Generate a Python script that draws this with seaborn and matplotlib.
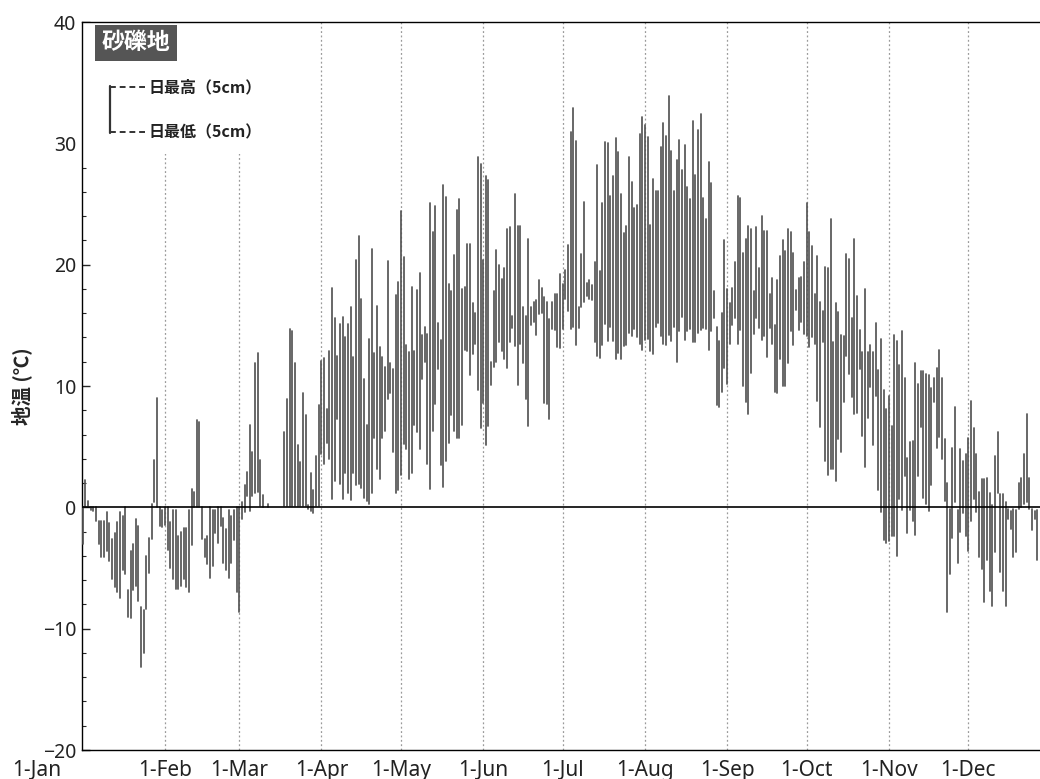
import numpy as np
import pandas as pd
import matplotlib
matplotlib.use("Agg")
import matplotlib.pyplot as plt
import matplotlib.transforms as mtransforms
from matplotlib.ticker import MultipleLocator
import seaborn as sns

# Daily max / min soil temperature at 5 cm (gravel site)
nan = np.nan

jan_max = [0.0, 2.25, 0.5, 0.0, 0.0, 0.0, -1.1, -1.1, -1.1, -0.4, -1.3, -2.6, -2.1, -1.2, -0.4, -0.7,
           0.0, -6.8, -3.6, -3.0, -1.0, -1.5, -8.2, -8.5, -4.0, -2.5, 0.3, 3.9, 9.0, 0.0, -0.2]
jan_min = [-3.0, 0.0, 0.1, -0.2, -0.3, -1.1, -3.0, -4.1, -4.1, -3.6, -4.4, -5.9, -6.6, -7.0, -7.5, -5.2,
           -5.5, -9.0, -9.1, -6.8, -6.5, -7.7, -13.2, -12.0, -8.4, -5.4, -2.6, 0.4, 0.0, -1.5, -1.6]

feb_max = [0.0, 0.0, -1.2, -0.2, -0.2, -2.4, -2.0, -1.7, -1.7, -0.2, 1.5, 1.3, 7.2, 7.0, 0.0, -2.6,
           -2.4, 0.0, -0.2, -0.2, 0.0, 0.0, -0.9, -1.8, -0.2, -0.7, -0.2, 0.0]
feb_min = [-1.45, -3.5, -5.0, -5.9, -6.7, -6.7, -6.5, -5.9, -6.6, -7.0, -3.1, 0.0, 0.0, 0.0, -2.6, -4.1,
           -4.7, -5.8, -4.8, -2.1, -2.9, -1.5, -4.6, -5.2, -5.8, -4.6, -2.7, -7.0]

mar_max = [0.0, 0.4, 1.8, 2.9, 6.8, 4.6, 11.9, 12.7, 3.9, 1.0, nan, 0.3, nan, nan, nan, nan,
           nan, 6.2, 8.9, 14.7, 14.5, 11.9, 5.1, 3.7, 9.4, 7.6, 0.2, 2.8, 1.4, 4.2, 8.4]
mar_min = [-8.6, -1.0, -0.4, 0.9, -0.3, 0.9, 1.2, 1.3, 0.1, 0.0, nan, 0.0, nan, nan, nan, nan,
           nan, 0.1, 0.1, 0.1, 0.1, 0.1, 0.1, 0.1, 0.1, 0.1, -0.1, -0.3, -0.5, 0.1, 0.1]

apr_max = [12.1, 12.3, 8.1, 12.9, 18.1, 15.6, 12.5, 15.1, 15.7, 14.0, 15.1, 16.5, 12.4, 20.4, 22.4,
           17.2, 10.6, 6.8, 13.9, 21.3, 12.7, 16.6, 13.2, 12.4, 11.6, 20.3, 11.9, 11.4, 17.5, 18.6]
apr_min = [4.4, 3.6, 5.3, 4.0, 0.7, 2.2, 7.3, 1.9, 0.7, 2.8, 1.2, 0.6, 2.8, 1.8, 1.9,
           1.6, 0.8, 0.5, 0.3, 1.2, 5.7, 3.2, 2.3, 5.7, 6.3, 8.9, 9.4, 4.6, 1.2, 1.4]

may_max = [24.4, 20.6, 13.4, 12.8, 18.2, 12.9, 17.9, 19.3, 14.2, 14.9, 14.3, 25.1, 22.7, 24.8, 15.2, 13.8,
           26.6, 25.6, 18.4, 17.8, 20.8, 24.5, 25.4, 18.0, 18.2, 21.7, 21.7, 16.8, 16.0, 28.9, 28.3]
may_min = [2.7, 5.2, 4.8, 2.3, 2.8, 6.8, 6.2, 4.8, 10.6, 12.0, 3.6, 1.5, 6.3, 8.5, 11.4, 3.5,
           1.7, 3.8, 5.3, 7.6, 6.3, 5.7, 5.7, 6.8, 13.0, 12.9, 10.9, 12.6, 13.5, 9.7, 6.5]

jun_max = [20.4, 27.3, 27.0, 12.0, 17.8, 21.2, 20.0, 18.8, 19.7, 22.9, 23.1, 15.8, 25.8, 23.2, 23.2,
           16.5, 15.8, 22.1, 16.5, 16.9, 17.1, 18.7, 18.1, 17.3, 16.9, 15.5, 16.9, 17.6, 17.6, 19.2]
jun_min = [8.6, 5.1, 6.7, 10.1, 11.6, 12.0, 13.6, 12.9, 12.2, 11.5, 13.6, 14.8, 13.3, 10.1, 13.5,
           11.9, 8.9, 6.7, 15.0, 15.3, 14.2, 15.9, 16.0, 8.6, 8.5, 7.3, 14.7, 14.6, 13.2, 13.1]

jul_max = [18.4, 19.6, 21.6, 30.9, 32.9, 30.2, 16.5, 20.9, 25.2, 18.5, 18.7, 18.3, 20.2, 28.2, 19.5, 25.1,
           30.1, 30.0, 25.7, 27.3, 30.4, 29.3, 25.8, 22.6, 23.2, 28.9, 26.8, 24.7, 24.9, 30.8, 32.2]
jul_min = [14.7, 17.2, 16.2, 14.7, 14.9, 13.4, 14.8, 16.5, 16.9, 17.4, 17.2, 17.1, 13.6, 12.5, 12.3, 13.4,
           15.1, 13.7, 14.9, 13.7, 12.2, 12.7, 12.2, 13.3, 13.4, 14.4, 14.1, 14.7, 14.0, 13.5, 13.0]

aug_max = [31.5, 30.5, 23.3, 27.1, 26.1, 26.1, 29.7, 31.7, 30.6, 33.9, 29.4, 26.1, 28.6, 30.3, 27.8, 29.9,
           26.4, 25.4, 31.8, 27.4, 31.1, 32.4, 25.5, 23.8, 28.5, 26.7, 17.8, 14.9, 13.7, 16.0, 22.0]
aug_min = [13.8, 13.9, 12.9, 12.6, 14.9, 15.2, 14.1, 13.5, 13.4, 14.2, 13.7, 14.9, 12.0, 14.5, 15.7, 13.8,
           14.5, 14.7, 13.6, 13.6, 14.4, 14.6, 14.8, 14.7, 13.0, 14.5, 15.6, 8.4, 8.3, 9.5, 11.5]

sep_max = [18.0, 16.8, 18.1, 20.2, 25.7, 25.5, 21.0, 22.1, 23.2, 22.9, 17.8, 23.1, 19.7, 24.0, 22.8,
           22.8, 17.6, 18.9, 15.0, 18.7, 20.7, 22.0, 21.1, 22.9, 22.7, 21.0, 17.9, 18.9, 19.0, 20.2]
sep_min = [10.2, 13.5, 15.0, 15.6, 13.5, 14.6, 10.0, 8.7, 7.7, 11.1, 14.3, 15.6, 14.8, 13.8, 14.1,
           12.4, 14.8, 13.5, 9.5, 9.4, 12.2, 10.0, 10.0, 11.9, 14.5, 13.4, 16.3, 14.6, 15.3, 14.3]

oct_max = [25.1, 22.7, 21.5, 17.6, 20.7, 16.9, 16.2, 19.8, 19.7, 23.8, 13.6, 16.8, 16.1, 14.2, 14.1, 20.9,
           20.5, 15.6, 22.1, 17.4, 14.6, 12.8, 18.0, 12.8, 13.4, 12.8, 15.2, 11.3, 13.9, 9.7, 8.1]
oct_min = [14.1, 13.2, 14.0, 13.5, 8.8, 6.6, 13.6, 3.8, 2.7, 3.2, 3.2, 2.2, 5.6, 4.6, 8.7, 12.5,
           11.0, 9.1, 7.7, 7.8, 11.4, 5.9, 3.3, 7.4, 9.9, 5.1, 9.2, 1.4, -0.4, -2.7, -2.9]

nov_max = [9.2, 6.7, 14.2, 13.7, 11.7, 14.5, 10.7, 4.1, 5.4, 5.5, 11.9, 10.2, 11.2, 11.2, 11.0,
           10.9, 9.8, 10.7, 11.5, 13.0, 10.7, 5.6, 2.0, -0.1, 4.9, 8.3, -0.2, 4.8, 3.8, 4.4]
nov_min = [-2.8, -2.4, -2.4, -4.0, 0.7, -0.2, 2.6, -2.1, -0.2, -1.1, -2.3, 2.6, 6.6, 0.8, 0.3,
           -0.3, 1.8, 8.7, 4.9, 5.8, 4.0, 0.5, -8.6, -5.5, -2.5, 0.4, -4.6, -2.0, -0.5, -2.4]

dec_max = [5.7, 8.8, 6.5, 4.4, 1.3, 2.3, 2.3, 2.4, 1.2, 0.2, 4.2, 6.2, 1.1, 1.1,
           0.4, -0.1, -0.3, -0.1, -0.2, 2.0, 2.4, 4.4, 7.7, 2.4, -0.1, -0.3, -0.2]
dec_min = [-3.6, -1.1, 0.7, -0.4, -4.1, -5.1, -7.8, -4.3, -6.9, -8.1, -3.7, 1.2, -5.3, -6.9,
           -8.1, -1.0, -1.8, -4.1, -3.7, -0.1, 0.0, 0.3, 0.4, -0.1, -1.9, -1.0, -4.3]

month_ticks = ["1-Jan", "1-Feb", "1-Mar", "1-Apr", "1-May", "1-Jun",
               "1-Jul", "1-Aug", "1-Sep", "1-Oct", "1-Nov", "1-Dec"]
month_days = [31, 28, 31, 30, 31, 30, 31, 31, 30, 31, 30, 31]

t_max = np.array(jan_max + feb_max + mar_max + apr_max + may_max + jun_max
                 + jul_max + aug_max + sep_max + oct_max + nov_max + dec_max)
t_min = np.array(jan_min + feb_min + mar_min + apr_min + may_min + jun_min
                 + jul_min + aug_min + sep_min + oct_min + nov_min + dec_min)
day = np.arange(len(t_max))

# long form: two rows per day so each day becomes one vertical segment
df = pd.DataFrame({"day": np.concatenate([day, day]),
                   "temp": np.concatenate([t_max, t_min])}).dropna()

sns.set_style("ticks")
plt.rcParams["font.family"] = ["Noto Sans CJK JP", "DejaVu Sans"]

W, H = 1040, 779
fig = plt.figure(figsize=(W / 100, H / 100), dpi=100)
ax = fig.add_axes([82 / W, 1 - 750 / H, (W - 82) / W, (750 - 22) / H])

month_start = np.concatenate([[0], np.cumsum(month_days)[:-1]])

# dotted month gridlines
for m in month_start[1:]:
    ax.axvline(m, color="#9a9a9a", ls=(0, (1.5, 2)), lw=0.9, zorder=0)

sns.lineplot(data=df, x="day", y="temp", units="day", estimator=None,
             color="#555555", lw=1.25, ax=ax, zorder=3)

ax.axhline(0, color="black", lw=1.2, zorder=4)

ax.set_xlim(-0.3, 361.0)
ax.set_ylim(-20, 40)
ax.set_xticks(month_start)
ax.set_xticklabels(month_ticks, fontsize=15, family=["Noto Sans", "DejaVu Sans"], color="#222222")
ax.yaxis.set_major_locator(MultipleLocator(10))
ax.yaxis.set_minor_locator(MultipleLocator(2))
ax.tick_params(axis="y", which="major", direction="in", length=6, width=1, labelsize=14, pad=4)
ax.tick_params(axis="y", which="minor", direction="in", length=3, width=0.8)
ax.tick_params(axis="x", which="major", direction="in", length=0, pad=7)
for lab in ax.get_yticklabels():
    lab.set_family(["Noto Sans", "DejaVu Sans"])
    lab.set_color("#222222")

# first month label sits left of the axis corner
first = ax.get_xticklabels()[0]
first.set_transform(first.get_transform()
                    + mtransforms.ScaledTranslation(-0.46, 0, fig.dpi_scale_trans))

for s in ["left", "bottom", "top"]:
    ax.spines[s].set_color("black")
    ax.spines[s].set_linewidth(1.0)
ax.spines["right"].set_visible(False)

ax.set_xlabel("")
ax.set_ylabel("地温 (℃)", fontsize=14, fontweight="bold")
ax.yaxis.set_label_coords(-0.052, 0.5)

# white area behind the legend (hides the gridlines there)
ax.add_patch(plt.Rectangle((0, 29.1), 66, 10.9, facecolor="white", edgecolor="none", zorder=1))

ax.text(0.0564, 0.9712, "砂礫地", transform=ax.transAxes, ha="center", va="center",
        color="white", fontsize=16.5, fontweight="bold",
        bbox=dict(boxstyle="square,pad=0.28", facecolor="#555555", edgecolor="none"), zorder=6)

# bracket-style legend
ax.plot([0.0292, 0.0292], [0.8475, 0.9120], transform=ax.transAxes, color="#333333", lw=1.6, zorder=6)
for yy, txt in [(0.9107, "日最高（5cm）"), (0.8489, "日最低（5cm）")]:
    ax.plot([0.0292, 0.0668], [yy, yy], transform=ax.transAxes, color="#333333", lw=1.4,
            ls=(0, (3, 2)), zorder=6)
    ax.text(0.0699, yy, txt, transform=ax.transAxes, ha="left", va="center",
            fontsize=11.5, fontweight="bold", color="#222222", zorder=6)

fig.savefig("out.png", dpi=100)
